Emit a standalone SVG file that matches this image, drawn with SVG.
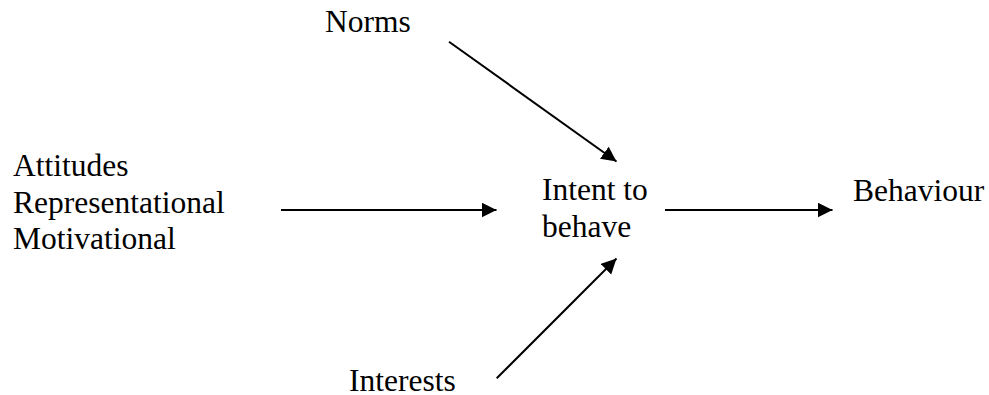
<svg xmlns="http://www.w3.org/2000/svg" width="989" height="395" viewBox="0 0 989 395">
  <style>
    text { font-family: 'Liberation Serif', 'Tinos', 'DejaVu Serif', serif; font-size: 31.5px; fill: #000; }
    .edge { stroke: #000; stroke-width: 2; fill: none; marker-end: url(#head); }
  </style>
  <defs>
    <marker id="head" markerUnits="userSpaceOnUse" markerWidth="16" markerHeight="16" refX="15" refY="7.5" orient="auto">
      <path d="M0,0 L15,7.5 L0,15 z" fill="#000"/>
    </marker>
  </defs>
  <rect width="989" height="395" fill="#fff"/>

  <g id="norms">
    <text x="325" y="32">Norms</text>
  </g>
  <g id="attitudes">
    <text x="13" y="176">Attitudes</text>
    <text x="13" y="212.5">Representational</text>
    <text x="13" y="249">Motivational</text>
  </g>
  <g id="intent">
    <text x="542" y="200">Intent to</text>
    <text x="542" y="237">behave</text>
  </g>
  <g id="behaviour">
    <text x="853" y="201">Behaviour</text>
  </g>
  <g id="interests">
    <text x="349" y="391">Interests</text>
  </g>

  <g id="connectors">
    <line class="edge" x1="449" y1="41.7" x2="616.5" y2="161.5"/>
    <line class="edge" x1="281" y1="210" x2="496.5" y2="210"/>
    <line class="edge" x1="665" y1="210" x2="832.5" y2="210"/>
    <line class="edge" x1="496.7" y1="378.3" x2="616.5" y2="258.5"/>
  </g>
</svg>
